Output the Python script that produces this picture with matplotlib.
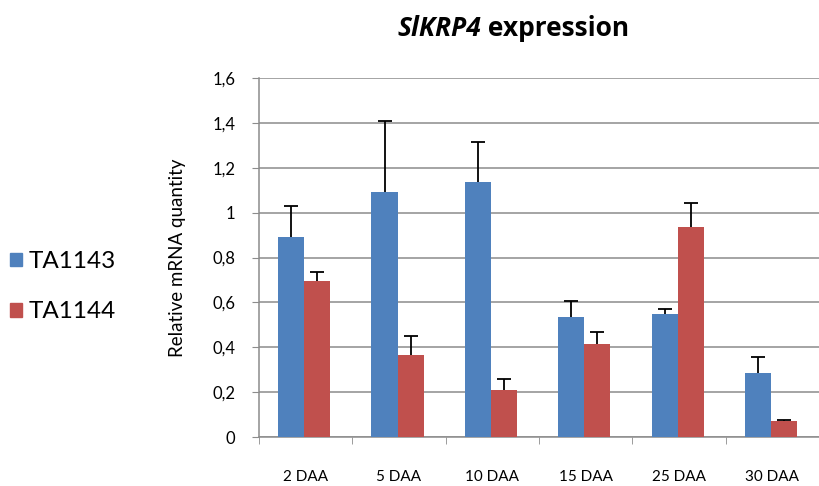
import matplotlib.pyplot as plt
import matplotlib.patches as mpatches
import numpy as np

# --- data ---
categories = ['2 DAA', '5 DAA', '10 DAA', '15 DAA', '25 DAA', '30 DAA']
ta1143 = [0.89, 1.09, 1.135, 0.535, 0.55, 0.285]
ta1143_err = [0.14, 0.32, 0.18, 0.07, 0.02, 0.07]
ta1144 = [0.695, 0.365, 0.21, 0.415, 0.935, 0.072]
ta1144_err = [0.04, 0.085, 0.05, 0.055, 0.11, 0.002]
yticks = [0, 0.2, 0.4, 0.6, 0.8, 1.0, 1.2, 1.4, 1.6]
ytick_labels = ['0', '0,2', '0,4', '0,6', '0,8', '1', '1,2', '1,4', '1,6']

blue = '#4F81BD'
red = '#C0504D'
grey = '#8C8C8C'

plt.rcParams['font.family'] = ['Lato', 'DejaVu Sans']

fig = plt.figure(figsize=(8.19, 4.86), dpi=100)
ax = fig.add_axes([0.3162, 0.1008, 0.684, 0.7387])

x = np.arange(len(categories))
w = 0.28
offsets = [-0.155, 0.125]
for vals, errs, col, off in [(ta1143, ta1143_err, blue, offsets[0]),
                             (ta1144, ta1144_err, red, offsets[1])]:
    vals = np.array(vals)
    errs = np.array(errs)
    ax.bar(x + off, vals, w, color=col, zorder=3)
    # upper error only, cap on the top end
    ax.errorbar(x + off, vals, yerr=[np.zeros_like(errs), errs], fmt='none',
                ecolor='black', elinewidth=1.3, capsize=0, zorder=4)
    ax.plot(x + off, vals + errs, ls='none', marker='_', ms=10, mew=1.3,
            color='black', zorder=4)

ax.set_xlim(-0.5, 5.5)
ax.set_ylim(0, 1.6)
ax.set_yticks(yticks)
ax.set_yticklabels(ytick_labels, fontsize=12)
ax.yaxis.grid(True, color=grey, linewidth=1.1, zorder=0)
ax.set_axisbelow(True)

ax.set_xticks(x)
ax.set_xticklabels(categories, fontsize=11)
ax.set_xticks(np.arange(-0.5, 6.0, 1.0), minor=True)
ax.tick_params(axis='x', which='major', length=0, pad=24)
ax.tick_params(axis='x', which='minor', length=5, color=grey, direction='out')
ax.tick_params(axis='y', length=5, color=grey, pad=12)

for s in ['top', 'right']:
    ax.spines[s].set_visible(False)
ax.spines['left'].set_color(grey)
ax.spines['bottom'].set_color(grey)
ax.spines['left'].set_linewidth(1.1)
ax.spines['bottom'].set_linewidth(1.1)

ax.set_ylabel('Relative mRNA quantity', fontsize=13.5)
ax.yaxis.set_label_coords(-0.13, 0.5)

# title with italic gene name
title_font = ['Open Sans', 'DejaVu Sans']
t1 = fig.text(397 / 819, 0.925, 'SlKRP4', fontsize=19, fontweight='bold',
              style='italic', ha='left', va='baseline', family=title_font)
ax.annotate(' expression', xy=(1, 0), xycoords=t1, fontsize=19,
            fontweight='bold', ha='left', va='bottom', family=title_font)

handles = [mpatches.Patch(color=blue), mpatches.Patch(color=red)]
fig.legend(handles, ['TA1143', 'TA1144'], loc='center left',
           bbox_to_anchor=(-0.015, 0.41), frameon=False, fontsize=17.5,
           handlelength=0.5, handleheight=0.5, handletextpad=0.3,
           labelspacing=1.2)

fig.savefig('out.png', dpi=100)
